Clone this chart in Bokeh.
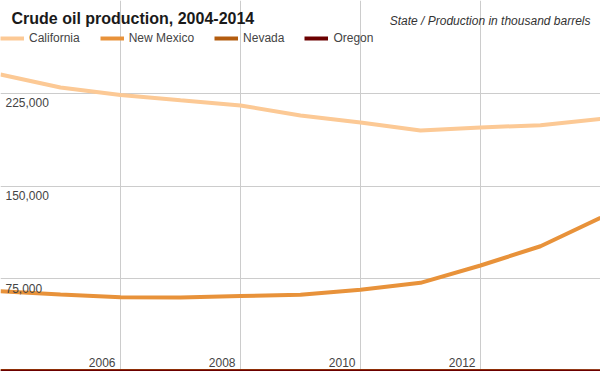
from bokeh.plotting import figure
from bokeh.models import Range1d, FixedTicker, Label, ColumnDataSource
from bokeh.core.properties import value
from bokeh.embed import file_html
from bokeh.resources import INLINE

# ---- data (thousand barrels) ----
years = [2004, 2005, 2006, 2007, 2008, 2009, 2010, 2011, 2012, 2013, 2014]
california = [240200, 229700, 223600, 219300, 215100, 207000, 201300, 194900, 197300, 199200, 204300]
new_mexico = [64900, 62300, 60100, 59800, 61000, 62000, 66100, 71700, 85700, 101300, 124300]
nevada = [430, 460, 400, 430, 420, 420, 400, 420, 370, 340, 300]
oregon = [0, 0, 0, 0, 0, 0, 0, 0, 0, 0, 0]

series_names = ["California", "New Mexico", "Nevada", "Oregon"]
series_colors = ["#fcc995", "#e8923a", "#b35c0f", "#6b0000"]

x_grid_years = [2004, 2006, 2008, 2010, 2012, 2014]
y_grid_values = [0, 75000, 150000, 225000, 300000]
x_tick_years = [2006, 2008, 2010, 2012]
x_tick_labels = ["2006", "2008", "2010", "2012"]
y_tick_values = [75000, 150000, 225000]
y_tick_labels = ["75,000", "150,000", "225,000"]

title_text = "Crude oil production, 2004-2014"
subtitle_text = "State / Production in thousand barrels"

W, H = 600, 371
FONT = "Liberation Sans"

p = figure(width=W, height=H, output_backend="svg", toolbar_location=None,
           x_range=Range1d(2004, 2014), y_range=Range1d(0, 300000),
           x_axis_location=None, y_axis_location=None, min_border=0,
           background_fill_color="white", border_fill_color="white")
p.outline_line_color = None

p.xgrid.ticker = FixedTicker(ticks=x_grid_years)
p.ygrid.ticker = FixedTicker(ticks=y_grid_values)
p.grid.grid_line_color = "#cccccc"
p.grid.grid_line_width = 1

for name, vals, col in zip(series_names, [california, new_mexico, nevada, oregon], series_colors):
    p.line(years, vals, line_color=col, line_width=4, legend_label=name)

# tick labels drawn inside the plot
xs = ColumnDataSource(dict(x=x_tick_years, y=[0] * len(x_tick_years), t=x_tick_labels))
p.text(x="x", y="y", text="t", source=xs, text_font=value(FONT), text_font_size="12px",
       text_color="#444444", text_align="right", text_baseline="bottom",
       x_offset=-5, y_offset=-5)
ys = ColumnDataSource(dict(x=[2004] * len(y_tick_values), y=y_tick_values, t=y_tick_labels))
p.text(x="x", y="y", text="t", source=ys, text_font=value(FONT), text_font_size="12px",
       text_color="#444444", text_align="left", text_baseline="top",
       x_offset=5, y_offset=5)

# title + subtitle
p.add_layout(Label(x=11, y=H - 26, x_units="screen", y_units="screen", text=title_text,
                   text_font=FONT, text_font_size="16px", text_font_style="bold",
                   text_color="#1a1a1a", text_baseline="bottom"))
p.add_layout(Label(x=590, y=H - 27, x_units="screen", y_units="screen", text=subtitle_text,
                   text_font=FONT, text_font_size="12px", text_font_style="italic",
                   text_color="#333333", text_align="right", text_baseline="bottom"))

lg = p.legend[0]
lg.orientation = "horizontal"
lg.location = (0, H - 31 - 14)
lg.padding = 0
lg.margin = 0
lg.spacing = 20
lg.label_standoff = 5
lg.glyph_width = 24
lg.glyph_height = 14
lg.label_height = 14
lg.label_text_font = FONT
lg.label_text_font_size = "12px"
lg.label_text_color = "#444444"
lg.border_line_color = None
lg.background_fill_alpha = 0

open("out.html", "w").write(file_html(p, INLINE))
